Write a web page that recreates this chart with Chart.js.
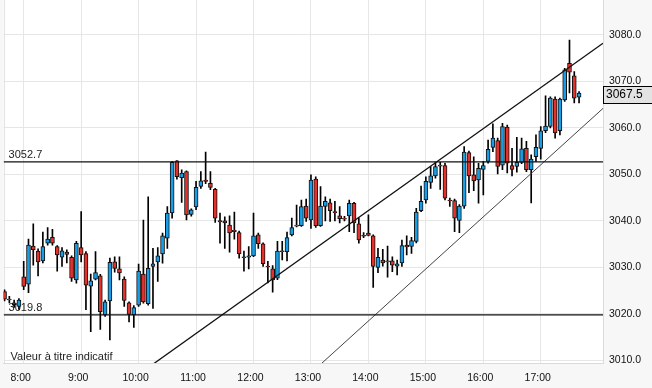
<!DOCTYPE html>
<html lang="fr">
<head>
<meta charset="UTF-8">
<title>Cours intraday 5 minutes</title>
<script src="https://cdn.jsdelivr.net/npm/chart.js"></script>
<style>
  body { margin: 0; background: #f7f7f7; }
  #wrap { width: 652px; height: 388px; }
</style>
</head>
<body>
<div id="wrap"><canvas id="chart" width="652" height="388"></canvas></div>
<script>
// 5-minute candles, 7:40 -> 17:40
const times = [
  '7:40','7:45','7:50','7:55',
  '8:00','8:05','8:10','8:15','8:20','8:25','8:30','8:35','8:40','8:45','8:50','8:55',
  '9:00','9:05','9:10','9:15','9:20','9:25','9:30','9:35','9:40','9:45','9:50','9:55',
  '10:00','10:05','10:10','10:15','10:20','10:25','10:30','10:35','10:40','10:45','10:50','10:55',
  '11:00','11:05','11:10','11:15','11:20','11:25','11:30','11:35','11:40','11:45','11:50','11:55',
  '12:00','12:05','12:10','12:15','12:20','12:25','12:30','12:35','12:40','12:45','12:50','12:55',
  '13:00','13:05','13:10','13:15','13:20','13:25','13:30','13:35','13:40','13:45','13:50','13:55',
  '14:00','14:05','14:10','14:15','14:20','14:25','14:30','14:35','14:40','14:45','14:50','14:55',
  '15:00','15:05','15:10','15:15','15:20','15:25','15:30','15:35','15:40','15:45','15:50','15:55',
  '16:00','16:05','16:10','16:15','16:20','16:25','16:30','16:35','16:40','16:45','16:50','16:55',
  '17:00','17:05','17:10','17:15','17:20','17:25','17:30','17:35','17:40'
];
const opens = [
  3024.8,3023.2,3022.4,3021.6,3028.0,3026.4,3034.6,3033.5,3031.4,3035.2,3036.5,3034.5,3032.2,3033.3,3032.2,3027.3,
  3034.3,3033.0,3026.0,3027.5,3028.2,3019.8,3022.8,3031.2,3029.7,3027.5,3022.4,3019.8,3021.9,3028.6,3022.2,3030.2,
  3031.2,3032.9,3036.3,3041.7,3052.9,3049.3,3050.6,3041.4,3043.0,3047.4,3048.8,3048.1,3046.8,3040.1,3040.0,3039.1,
  3038.0,3037.5,3032.3,3032.2,3032.5,3037.0,3035.1,3030.3,3029.7,3027.7,3033.4,3033.4,3037.0,3038.9,3039.0,3043.2,
  3040.2,3049.0,3039.0,3043.1,3043.9,3042.0,3041.1,3040.6,3041.1,3043.8,3039.4,3036.9,3037.4,3036.8,3030.0,3031.6,
  3031.4,3031.4,3030.3,3031.0,3034.8,3034.5,3035.6,3042.2,3044.5,3048.3,3049.7,3052.0,3051.9,3044.5,3044.4,3040.1,
  3043.2,3054.7,3049.9,3048.8,3051.1,3052.8,3055.8,3057.3,3052.0,3060.2,3051.9,3051.7,3052.6,3055.6,3051.0,3053.8,
  3055.6,3059.4,3060.3,3066.2,3059.4,3066.0,3073.9,3071.2,3066.6
];
const highs = [
  3025.2,3023.8,3023.0,3023.3,3031.3,3036.1,3039.4,3034.0,3037.6,3038.6,3038.2,3034.7,3034.3,3033.8,3032.5,3035.6,
  3042.0,3033.4,3028.6,3033.4,3028.5,3023.0,3032.0,3032.3,3032.3,3028.0,3022.6,3021.8,3030.7,3040.2,3045.2,3034.1,
  3034.3,3037.4,3043.1,3052.8,3053.0,3051.0,3050.8,3042.6,3048.5,3050.6,3054.8,3050.6,3047.0,3041.7,3040.9,3041.1,
  3041.9,3037.8,3033.5,3034.5,3041.7,3037.4,3035.3,3031.3,3030.4,3035.6,3035.6,3037.6,3040.6,3043.4,3044.5,3044.7,
  3049.9,3049.5,3047.4,3045.2,3044.7,3044.2,3043.1,3041.0,3044.5,3044.0,3040.6,3037.5,3041.3,3037.0,3034.1,3033.9,
  3034.6,3032.3,3031.6,3035.9,3036.8,3036.5,3042.7,3047.5,3049.5,3051.7,3052.6,3052.6,3052.4,3044.9,3044.7,3043.5,
  3056.0,3055.0,3053.8,3052.4,3052.8,3057.4,3060.9,3057.8,3061.0,3060.6,3055.6,3058.0,3057.8,3057.1,3054.2,3058.5,
  3060.3,3066.9,3066.7,3066.7,3066.4,3072.8,3078.9,3072.1,3067.8
];
const lows = [
  3022.8,3022.4,3021.4,3021.0,3025.2,3024.6,3030.5,3028.2,3031.0,3034.8,3034.8,3029.2,3030.2,3031.0,3027.0,3026.6,
  3031.2,3020.9,3016.2,3027.3,3016.7,3019.5,3014.4,3029.0,3027.3,3021.6,3018.3,3017.1,3021.6,3022.3,3021.9,3021.2,
  3027.0,3030.9,3034.1,3040.6,3049.0,3044.0,3040.2,3041.0,3042.4,3047.0,3048.0,3046.7,3039.7,3035.2,3034.1,3033.3,
  3036.1,3032.0,3029.2,3029.7,3032.3,3034.1,3030.2,3026.7,3024.7,3027.4,3031.6,3031.4,3036.8,3038.7,3038.8,3039.9,
  3038.4,3038.6,3038.8,3040.0,3039.9,3040.0,3039.6,3040.0,3037.7,3037.5,3035.2,3036.4,3036.8,3025.7,3028.9,3030.3,
  3027.9,3029.1,3028.4,3030.2,3032.7,3033.0,3035.3,3042.0,3043.8,3047.0,3049.2,3046.8,3044.5,3043.1,3037.7,3037.5,
  3042.7,3046.1,3046.5,3043.8,3045.6,3052.4,3054.9,3050.1,3051.0,3050.3,3049.7,3050.5,3052.3,3050.6,3043.9,3052.8,
  3053.3,3059.0,3060.0,3057.8,3058.5,3065.7,3067.5,3065.4,3065.4
];
const closes = [
  3023.2,3023.0,3022.0,3023.0,3025.9,3034.8,3033.8,3031.2,3034.5,3036.1,3035.2,3032.7,3033.6,3032.8,3027.7,3035.2,
  3032.7,3026.2,3027.1,3028.9,3020.5,3022.6,3031.1,3029.8,3028.8,3022.9,3019.9,3021.4,3029.2,3022.6,3029.8,3030.8,
  3032.5,3036.8,3041.7,3052.6,3049.5,3050.3,3041.3,3042.4,3047.2,3048.6,3048.5,3047.2,3040.6,3039.8,3039.6,3037.4,
  3037.7,3032.9,3032.1,3032.5,3036.8,3035.1,3030.8,3030.1,3027.3,3033.5,3033.6,3036.4,3038.6,3039.1,3043.1,3040.6,
  3048.8,3039.0,3043.2,3044.2,3042.2,3041.8,3040.5,3040.4,3043.8,3039.6,3035.9,3036.7,3036.9,3030.2,3032.2,3031.0,
  3031.2,3030.5,3030.8,3034.7,3034.4,3035.8,3041.9,3044.2,3048.5,3049.7,3051.7,3051.8,3044.9,3044.3,3040.6,3043.2,
  3054.8,3049.7,3048.6,3051.3,3051.9,3055.4,3057.8,3051.7,3060.3,3052.4,3051.1,3052.6,3055.5,3051.0,3053.3,3055.8,
  3059.4,3060.4,3066.4,3058.9,3066.2,3072.5,3072.0,3066.4,3067.5
];

const xTicks = ['8:00','9:00','10:00','11:00','12:00','13:00','14:00','15:00','16:00','17:00'];
const yTicks = [3010, 3020, 3030, 3040, 3050, 3060, 3070, 3080];
const xStart = '7:39', xEnd = '18:05';
const yMin = 3009.46, yMax = 3087.5;

// horizontal levels
const levels = [3052.7, 3019.8];
// channel lines (two anchor points each)
const upperTimes = ['10:00', '18:05'];
const upperPrices = [3007.0, 3078.2];
const lowerTimes = ['13:00', '18:05'];
const lowerPrices = [3007.3, 3064.2];

const UP = '#179ee6', DOWN = '#e4312b';

function toMin(s) {
  const p = s.split(':');
  return (+p[0]) * 60 + (+p[1]);
}
function fmtTime(v) {
  return Math.floor(v / 60) + ':' + String(v % 60).padStart(2, '0');
}

const xs = times.map(toMin);
const wicks = xs.map((x, i) => ({ x: x, y: [lows[i], highs[i]] }));
const bodies = xs.map((x, i) => ({ x: x, y: [opens[i], closes[i]] }));
const bodyColors = opens.map((o, i) => closes[i] >= o ? UP : DOWN);

const levelSets = levels.map(v => ({
  type: 'line',
  data: [{ x: toMin(xStart), y: v }, { x: toMin(xEnd), y: v }],
  borderColor: '#111', borderWidth: 1.3, pointRadius: 0, fill: false, order: 0
}));

const decor = {
  id: 'decor',
  beforeDraw(chart) {
    const { ctx, chartArea: a } = chart;
    ctx.save();
    ctx.fillStyle = '#f7f7f7';
    ctx.fillRect(0, 0, chart.width, chart.height);
    ctx.fillStyle = '#ffffff';
    ctx.fillRect(a.left, a.top, a.right - a.left, a.bottom - a.top);
    ctx.restore();
  },
  beforeDatasetsDraw(chart) {
    const { ctx, chartArea: a, scales } = chart;
    ctx.save();
    ctx.strokeStyle = '#e3e3e3';
    ctx.lineWidth = 1;
    ctx.beginPath();
    ctx.moveTo(Math.round(a.left) + 0.5, a.top);
    ctx.lineTo(Math.round(a.left) + 0.5, a.bottom);
    ctx.stroke();
    ctx.fillStyle = '#222';
    ctx.font = '11px "Liberation Sans", Arial, sans-serif';
    ctx.textBaseline = 'alphabetic';
    levels.forEach(v => {
      ctx.fillText(v.toFixed(1), a.left + 5, scales.y.getPixelForValue(v) - 3.5);
    });
    ctx.fillText('Valeur à titre indicatif', a.left + 7, a.bottom - 3);
    ctx.restore();
  },
  afterDraw(chart) {
    const { ctx, chartArea: a, scales } = chart;
    const last = closes[closes.length - 1];
    const py = scales.y.getPixelForValue(last) + 1.5;
    ctx.save();
    ctx.fillStyle = '#e3e3e3';
    ctx.strokeStyle = '#000';
    ctx.lineWidth = 1;
    ctx.fillRect(a.right + 0.5, Math.round(py - 8.5) + 0.5, 60, 17);
    ctx.strokeRect(a.right + 0.5, Math.round(py - 8.5) + 0.5, 60, 17);
    ctx.fillStyle = '#000';
    ctx.font = '12px "Liberation Sans", Arial, sans-serif';
    ctx.textBaseline = 'middle';
    ctx.fillText(last.toFixed(1), a.right + 3, py);
    ctx.restore();
  }
};

Chart.defaults.font.family = '"Liberation Sans", Arial, sans-serif';

new Chart(document.getElementById('chart'), {
  type: 'bar',
  data: {
    datasets: [
      {
        data: wicks, backgroundColor: '#000', barThickness: 1,
        grouped: false, order: 3
      },
      {
        data: bodies, backgroundColor: bodyColors, borderColor: '#111',
        borderWidth: 1, borderSkipped: false, barThickness: 4,
        grouped: false, order: 2
      },
      ...levelSets,
      {
        type: 'line',
        data: upperTimes.map((t, i) => ({ x: toMin(t), y: upperPrices[i] })),
        borderColor: '#111', borderWidth: 1.3, pointRadius: 0, fill: false, order: 0
      },
      {
        type: 'line',
        data: lowerTimes.map((t, i) => ({ x: toMin(t), y: lowerPrices[i] })),
        borderColor: '#444', borderWidth: 1, pointRadius: 0, fill: false, order: 0
      }
    ]
  },
  options: {
    responsive: false,
    animation: false,
    layout: { padding: { left: 3.6, top: 0, right: 0, bottom: 0 }, autoPadding: false },
    plugins: { legend: { display: false }, tooltip: { enabled: false } },
    scales: {
      x: {
        type: 'linear',
        min: toMin(xStart),
        max: toMin(xEnd),
        offset: false,
        afterBuildTicks: s => { s.ticks = xTicks.map(t => ({ value: toMin(t) })); },
        afterFit: s => { s.height = 25; s.paddingLeft = 0; s.paddingRight = 0; },
        grid: { color: '#e6e6e6', drawTicks: false, offset: false },
        border: { color: '#dadada' },
        ticks: {
          padding: 9, labelOffset: -3, maxRotation: 0, autoSkip: false,
          color: '#111', font: { size: 10.5 },
          callback: v => fmtTime(v)
        }
      },
      y: {
        position: 'right',
        min: yMin,
        max: yMax,
        afterBuildTicks: s => { s.ticks = yTicks.map(v => ({ value: v })); },
        afterFit: s => { s.width = 49; s.paddingTop = 0; s.paddingBottom = 0; },
        grid: { color: '#e6e6e6', drawTicks: false },
        border: { color: '#dadada' },
        ticks: {
          padding: 6, color: '#111', font: { size: 10.5 },
          callback: v => v.toFixed(1)
        }
      }
    }
  },
  plugins: [decor]
});
</script>
</body>
</html>
